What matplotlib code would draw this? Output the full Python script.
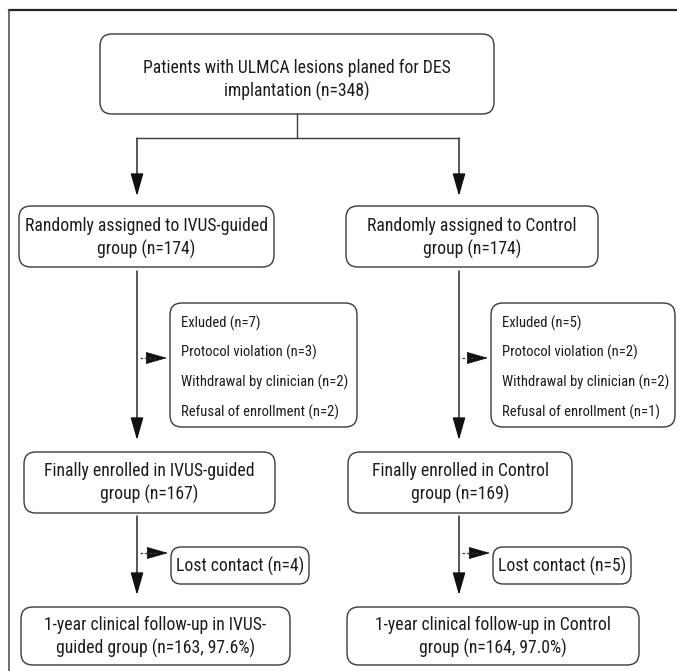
import matplotlib
matplotlib.use("Agg")
import matplotlib.pyplot as plt
from matplotlib import font_manager
from matplotlib.patches import FancyBboxPatch, FancyArrowPatch

# pick a condensed sans if there is one, else DejaVu Sans condensed
have = set(f.name for f in font_manager.fontManager.ttflist)
FAM = 'Roboto Condensed' if 'Roboto Condensed' in have else 'DejaVu Sans'
plt.rcParams['font.family'] = [FAM, 'DejaVu Sans']
plt.rcParams['font.stretch'] = 'condensed'

# box texts
top_text = "Patients with ULMCA lesions planed for DES\nimplantation (n=348)"
assigned = ["Randomly assigned to IVUS-guided\ngroup (n=174)",
            "Randomly assigned to Control\ngroup (n=174)"]
excluded = [["Exluded (n=7)", "Protocol violation (n=3)",
             "Withdrawal by clinician (n=2)", "Refusal of enrollment (n=2)"],
            ["Exluded (n=5)", "Protocol violation (n=2)",
             "Withdrawal by clinician (n=2)", "Refusal of enrollment (n=1)"]]
enrolled = ["Finally enrolled in IVUS-guided\ngroup (n=167)",
            "Finally enrolled in Control\ngroup (n=169)"]
lost = ["Lost contact (n=4)", "Lost contact (n=5)"]
followup = ["1-year clinical follow-up in IVUS-\nguided group (n=163, 97.6%)",
            "1-year clinical follow-up in Control\ngroup (n=164, 97.0%)"]

W, H = 677, 671
fig = plt.figure(figsize=(W / 100, H / 100), dpi=100)
ax = fig.add_axes([0, 0, 1, 1])
ax.set_xlim(0, W)
ax.set_ylim(H, 0)
ax.axis('off')


def fit_size(s, px):
    # font size that gives the text about px pixels wide
    t = fig.text(0, 0, s, fontsize=10)
    w = t.get_window_extent(fig.canvas.get_renderer()).width
    t.remove()
    return 10 * px / w


BIG = fit_size("Randomly assigned to IVUS-guided", 241)
SMALL = fit_size("Protocol violation (n=3)", 135)

LC = '#3a3a3a'
TC = '#1c1c1c'


def box(x0, x1, y0, y1, r=12):
    p = FancyBboxPatch((x0, y0), x1 - x0, y1 - y0,
                       boxstyle="round,pad=0,rounding_size=%d" % r,
                       fc='white', ec=LC, lw=1.0)
    ax.add_patch(p)


HEAD = '-|>,head_length=1.4,head_width=0.4'


def arrow(x, y0, y1):
    ax.add_patch(FancyArrowPatch((x, y0), (x, y1), arrowstyle=HEAD,
                                 mutation_scale=10, color='#111111', lw=1.0,
                                 shrinkA=0, shrinkB=0))


def dash_arrow(x0, x1, y):
    ax.plot([x0, x1 - 12], [y, y], color=LC, lw=0.9, ls=(0, (2, 1.5)))
    ax.add_patch(FancyArrowPatch((x1 - 13, y), (x1, y), arrowstyle=HEAD,
                                 mutation_scale=10, color='#111111', lw=0.5,
                                 shrinkA=0, shrinkB=0))


# outer frame (top and left only)
ax.plot([9, W], [10, 10], color='#222222', lw=1.6)
ax.plot([9, 9], [10, H], color='#555555', lw=1.2)

# top box
box(100, 494, 34, 114)
ax.text(297, 80, top_text, ha='center', va='center', fontsize=BIG, color=TC, linespacing=1.3)
ax.plot([297, 297], [114, 138], color=LC, lw=1.0)
ax.plot([137, 459], [138, 138], color=LC, lw=1.0)

col_x = [137, 459]
assign_box = [(19, 274), (346, 598)]
excl_box = [(170, 357), (491, 675)]
enrol_box = [(24, 275), (348, 572)]
lost_box = [(171, 309), (493, 631)]
follow_box = [(21, 290), (347, 639)]

for i in range(2):
    cx = col_x[i]
    arrow(cx, 138, 196)

    x0, x1 = assign_box[i]
    box(x0, x1, 206, 267)
    ax.text((x0 + x1) / 2, 238, assigned[i], ha='center', va='center',
            fontsize=BIG, color=TC, linespacing=1.3)

    arrow(cx, 271, 440)

    x0, x1 = excl_box[i]
    box(x0, x1, 303, 427)
    for j, t in enumerate(excluded[i]):
        ax.text(x0 + 11, 323 + 29.7 * j, t, ha='left', va='center',
                fontsize=SMALL, color=TC)
    dash_arrow(cx + 3, x0 - 3, 358)

    x0, x1 = enrol_box[i]
    box(x0, x1, 452, 513)
    ax.text((x0 + x1) / 2, 483, enrolled[i], ha='center', va='center',
            fontsize=BIG, color=TC, linespacing=1.3)

    arrow(cx, 516, 595)

    x0, x1 = lost_box[i]
    box(x0, x1, 547, 584, r=10)
    ax.text((x0 + x1) / 2, 566, lost[i], ha='center', va='center',
            fontsize=BIG, color=TC)
    dash_arrow(cx + 3, x0 - 3, 553)

    x0, x1 = follow_box[i]
    box(x0, x1, 607, 665)
    ax.text((x0 + x1) / 2, 637, followup[i], ha='center', va='center',
            fontsize=BIG, color=TC, linespacing=1.3)

fig.savefig('out.png', dpi=100)
